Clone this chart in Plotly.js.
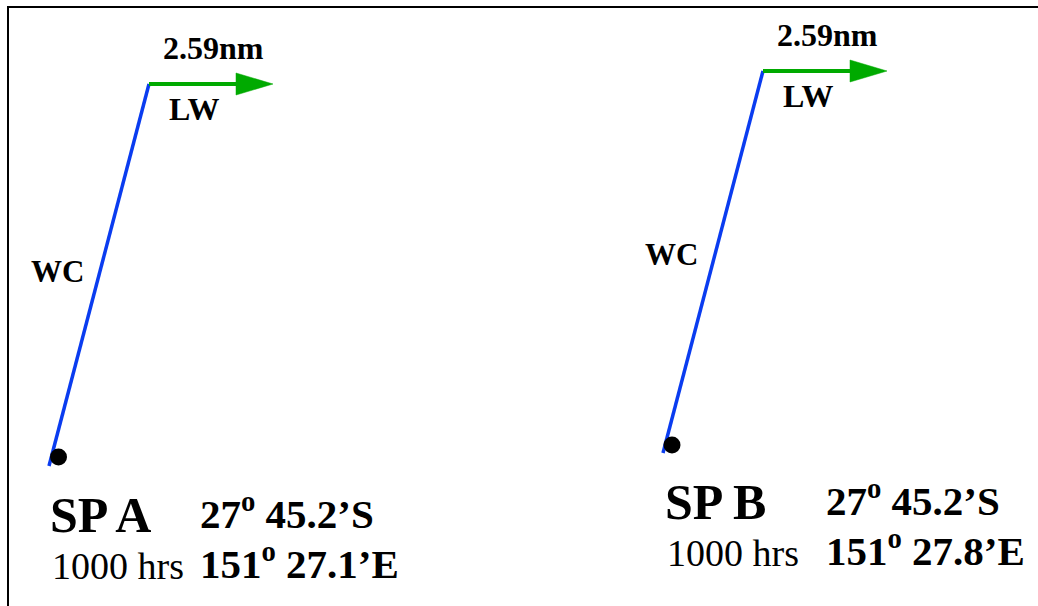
<!DOCTYPE html>
<html>
<head>
<meta charset="utf-8">
<script src="https://cdn.plot.ly/plotly-3.0.1.min.js"></script>
<style>
html,body{margin:0;padding:0;background:#fff;}
#chart{width:1038px;height:606px;}
#chart text{font-family:'Liberation Serif', serif !important;}
</style>
</head>
<body>
<div id="chart"></div>
<script>
// ---- data (diagram coordinates, y grows downward) ----
const positions = ['SP A', 'SP B'];
const times = ['1000 hrs', '1000 hrs'];
const latDeg = [27, 27];
const latMin = [45.2, 45.2];
const lonDeg = [151, 151];
const lonMin = [27.1, 27.8];
const leewayNm = [2.59, 2.59];
// water current (WC) vector: start -> end
const wcStartX = [49, 663];
const wcStartY = [466, 453];
const wcEndX = [149, 763];
const wcEndY = [84, 71];
// leeway (LW) vector end x (same y as WC end)
const lwEndX = [273, 887];
// start point dot
const dotX = [58.5, 672];
const dotY = [457, 445];

// ---- styles ----
const BLUE = '#0a3cf0';
const GREEN = '#00aa00';
const SERIF = 'Liberation Serif';
const headLen = 37, headHalf = 11;

const traces = [];
const annotations = [];
for (let i = 0; i < positions.length; i++) {
  traces.push({x: [wcStartX[i], wcEndX[i]], y: [wcStartY[i], wcEndY[i]], mode: 'lines',
    line: {color: BLUE, width: 3.5}, hoverinfo: 'skip'});
  const tipX = lwEndX[i], yy = wcEndY[i];
  traces.push({x: [wcEndX[i], tipX - headLen + 2], y: [yy, yy], mode: 'lines',
    line: {color: GREEN, width: 4}, hoverinfo: 'skip'});
  traces.push({x: [tipX - headLen, tipX, tipX - headLen, tipX - headLen],
    y: [yy - headHalf, yy, yy + headHalf, yy - headHalf], mode: 'lines', fill: 'toself',
    fillcolor: GREEN, line: {color: GREEN, width: 0.5}, hoverinfo: 'skip'});
  traces.push({x: [dotX[i]], y: [dotY[i]], mode: 'markers',
    marker: {color: 'black', size: 17}, hoverinfo: 'skip'});

  const midLW = (wcEndX[i] + tipX) / 2;
  annotations.push({x: midLW + 2, y: wcEndY[i] - 36, text: '<b>' + leewayNm[i].toFixed(2) + 'nm</b>',
    font: {family: SERIF, size: 32, color: 'black'}});
  annotations.push({x: wcEndX[i] + 45, y: wcEndY[i] + 25, text: '<b>LW</b>',
    font: {family: SERIF, size: 32, color: 'black'}});
  annotations.push({x: wcStartX[i] + 8, y: (wcStartY[i] + wcEndY[i]) / 2 - 4 + (i ? -4 : 0), text: '<b>WC</b>',
    font: {family: SERIF, size: 31, color: 'black'}});
}
const labelLeft = [48, 663];
const coordLeft = [198, 824];
for (let i = 0; i < positions.length; i++) {
  const base = wcStartY[i];
  annotations.push({x: labelLeft[i], y: base + 49, xanchor: 'left', text: '<b>' + positions[i] + '</b>',
    font: {family: SERIF, size: 50, color: 'black'}});
  annotations.push({x: labelLeft[i] + 2, y: base + 100, xanchor: 'left', text: times[i],
    font: {family: SERIF, size: 38, color: 'black'}});
  annotations.push({x: coordLeft[i], y: base + 45, xanchor: 'left',
    text: '<b>' + latDeg[i] + '<sup>o</sup> ' + latMin[i].toFixed(1) + '’S</b>',
    font: {family: SERIF, size: 41, color: 'black'}});
  annotations.push({x: coordLeft[i], y: base + 95, xanchor: 'left',
    text: '<b>' + lonDeg[i] + '<sup>o</sup> ' + lonMin[i].toFixed(1) + '’E</b>',
    font: {family: SERIF, size: 41, color: 'black'}});
}
annotations.forEach(a => { a.xref = 'x'; a.yref = 'y'; a.showarrow = false; if (!a.xanchor) a.xanchor = 'center'; a.yanchor = 'middle'; });

const layout = {
  width: 1038, height: 606,
  margin: {l: 0, r: 0, t: 0, b: 0},
  paper_bgcolor: '#fff', plot_bgcolor: '#fff',
  showlegend: false,
  xaxis: {range: [0, 1038], visible: false, fixedrange: true},
  yaxis: {range: [606, 0], visible: false, fixedrange: true},
  annotations: annotations,
  shapes: [
    {type: 'line', xref: 'paper', yref: 'paper', x0: 7 / 1038, x1: 1, y0: 1 - 7 / 606, y1: 1 - 7 / 606, line: {color: 'black', width: 2}},
    {type: 'line', xref: 'paper', yref: 'paper', x0: 8 / 1038, x1: 8 / 1038, y0: 0, y1: 1 - 7 / 606, line: {color: 'black', width: 2}}
  ]
};
Plotly.newPlot('chart', traces, layout, {displayModeBar: false});
</script>
</body>
</html>
